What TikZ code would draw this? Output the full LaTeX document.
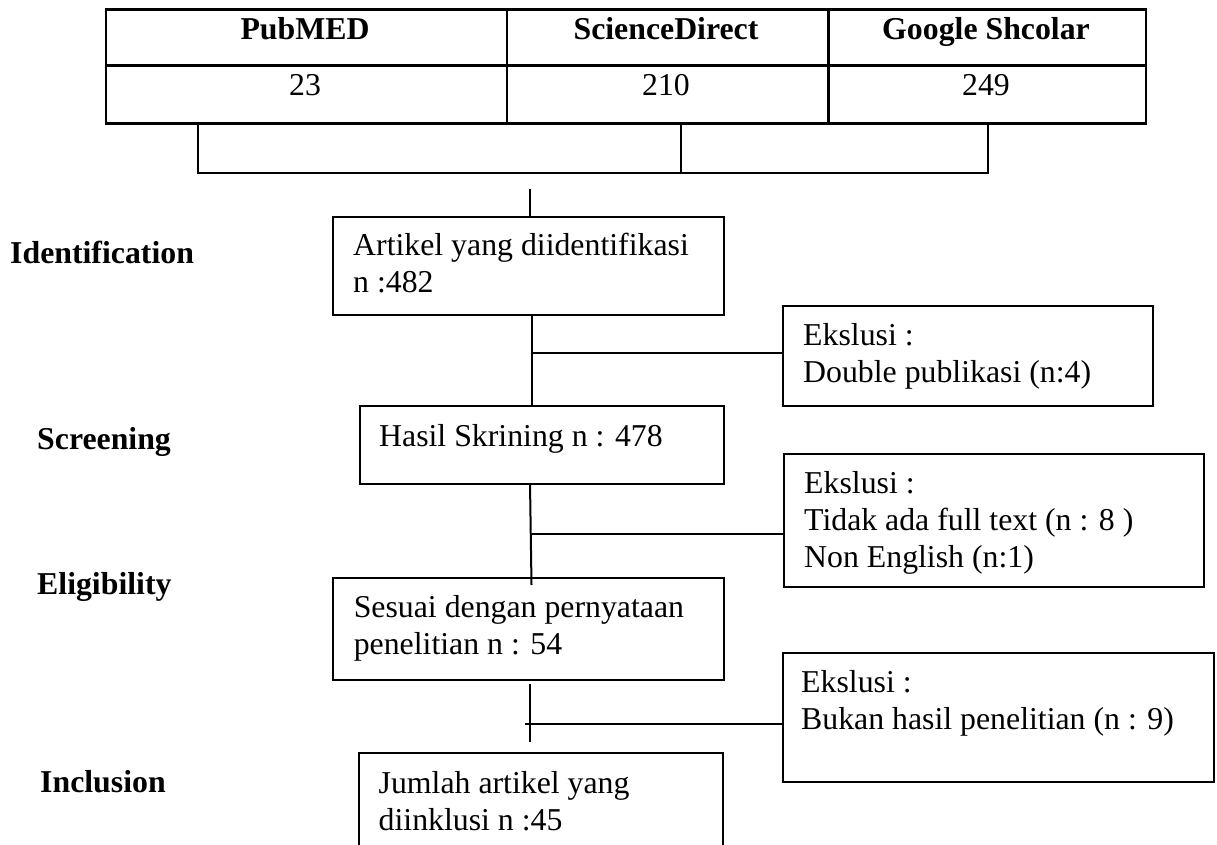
\documentclass[tikz,border=0pt]{standalone}
\usepackage{fontspec}
\setmainfont{Liberation Serif}
\begin{document}
\begin{tikzpicture}[x=1pt,y=-1pt,
  cell/.style={draw,line width=2.7pt,inner sep=0pt,anchor=north west},
  box/.style={draw,line width=2.2pt,inner sep=0pt,anchor=north west},
  txt/.style={inner sep=0pt,anchor=base west,font=\fontsize{31.8}{37}\selectfont},
  ctxt/.style={inner sep=0pt,anchor=base,font=\fontsize{31.8}{37}\selectfont},
  btxt/.style={inner sep=0pt,anchor=base west,font=\fontsize{31.8}{37}\selectfont\bfseries},
  conn/.style={line width=2pt}]
\useasboundingbox (0,0) rectangle (1217,845);
% table
\node[cell,minimum width=401.1pt,minimum height=56pt] (hPub) at (104.5,8) {};
\node[cell,minimum width=321.4pt,minimum height=56pt] (hSci) at (505.6,8) {};
\node[cell,minimum width=317.5pt,minimum height=56pt] (hGoo) at (827,8) {};
\node[cell,minimum width=401.1pt,minimum height=58pt] (vPub) at (104.5,64) {};
\node[cell,minimum width=321.4pt,minimum height=58pt] (vSci) at (505.6,64) {};
\node[cell,minimum width=317.5pt,minimum height=58pt] (vGoo) at (827,64) {};
\node[ctxt,font=\fontsize{31.8}{37}\selectfont\bfseries] (tPub) at (305,40) {PubMED};
\node[ctxt,font=\fontsize{31.8}{37}\selectfont\bfseries] (tSci) at (666,40) {ScienceDirect};
\node[ctxt,font=\fontsize{31.8}{37}\selectfont\bfseries] (tGoo) at (986,40) {Google Shcolar};
\node[ctxt] (nPub) at (305,96) {23};
\node[ctxt] (nSci) at (666,96) {210};
\node[ctxt] (nGoo) at (986,96) {249};
% bracket
\coordinate (bl) at (198,173);
\coordinate (bm) at (681,173);
\coordinate (br) at (988,173);
\coordinate (jn) at (530,189);
\draw[conn] (vPub.south -| bl) -- (bl) -- (br) -- (vGoo.south -| br);
\draw[conn] (vSci.south -| bm) -- (bm);
% stage labels
\node[btxt] (lId) at (10,263) {Identification};
\node[btxt] (lSc) at (37,449) {Screening};
\node[btxt] (lEl) at (37,594) {Eligibility};
\node[btxt] (lIn) at (40,792) {Inclusion};
% main boxes
\node[box,minimum width=391pt,minimum height=98pt] (art) at (332,216) {};
\node[txt] (art1) at (353,255) {Artikel yang diidentifikasi};
\node[txt] (art2) at (353,292) {n :482};
\node[box,minimum width=364pt,minimum height=78pt] (has) at (359,405) {};
\node[txt] (has1) at (379,446) {Hasil Skrining n : 478};
\node[box,minimum width=391pt,minimum height=102pt] (ses) at (332,577) {};
\node[txt] (ses1) at (353.6,617) {Sesuai dengan pernyataan};
\node[txt] (ses2) at (353.6,654) {penelitian n : 54};
\node[box,minimum width=364pt,minimum height=110pt] (jum) at (357.5,752) {};
\node[txt] (jum1) at (378.5,793) {Jumlah artikel yang};
\node[txt] (jum2) at (378.5,830) {diinklusi n :45};
% exclusion boxes
\node[box,minimum width=370pt,minimum height=100pt] (ex1) at (782,305) {};
\node[txt] (ex1a) at (803,345) {Ekslusi :};
\node[txt] (ex1b) at (803,382) {Double publikasi (n:4)};
\node[box,minimum width=420pt,minimum height=133pt] (ex2) at (783,453) {};
\node[txt] (ex2a) at (804,493) {Ekslusi :};
\node[txt] (ex2b) at (804,530) {Tidak ada full text (n : 8 )};
\node[txt] (ex2c) at (804,567) {Non English (n:1)};
\node[box,minimum width=431pt,minimum height=129pt] (ex3) at (782,652) {};
\node[txt] (ex3a) at (801,692) {Ekslusi :};
\node[txt] (ex3b) at (801,729) {Bukan hasil penelitian (n : 9)};
% connectors
\draw[conn] (jn) -- (art.north -| jn);
\coordinate (c1) at (532,353);
\draw[conn] (art.south -| c1) -- (has.north -| c1);
\draw[conn] (c1) -- (ex1.west |- c1);
\coordinate (c2t) at (530,483);
\coordinate (c2b) at (531.5,585);
\coordinate (c2) at (531.5,534);
\draw[conn] (c2t) -- (c2b);
\draw[conn] (c2) -- (ex2.west |- c2);
\coordinate (c3t) at (530,684);
\coordinate (c3b) at (530,742);
\coordinate (c3) at (525,724);
\draw[conn] (c3t) -- (c3b);
\draw[conn] (c3) -- (ex3.west |- c3);
\end{tikzpicture}
\end{document}
